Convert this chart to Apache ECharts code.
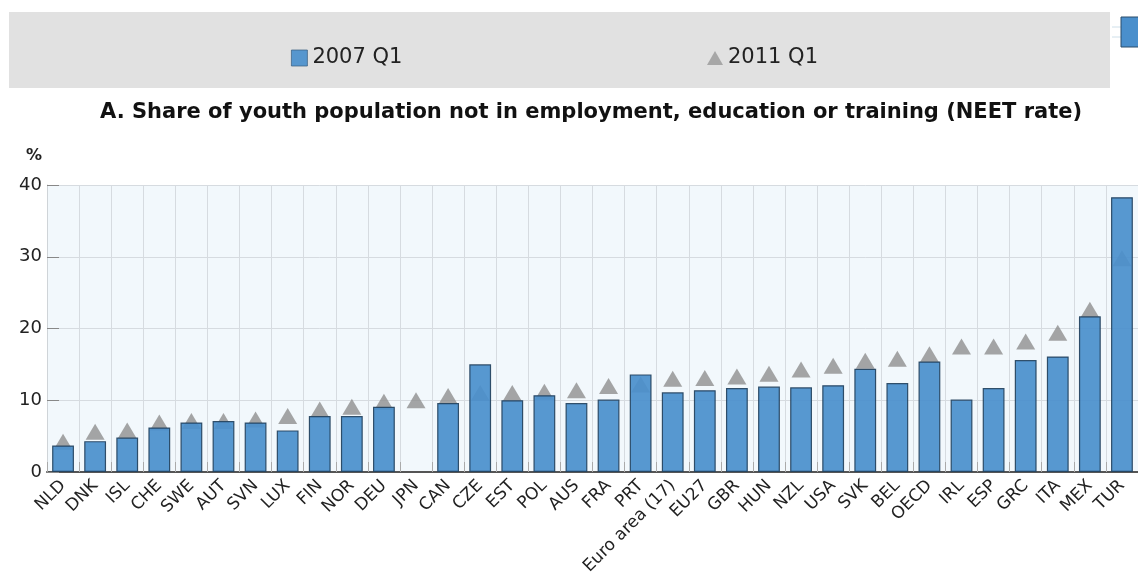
<!DOCTYPE html>
<html>
<head>
<meta charset="utf-8">
<script src="https://cdn.jsdelivr.net/npm/echarts@6/dist/echarts.min.js"></script>
<style>
html,body{margin:0;padding:0;background:#fff;}
#chart{width:1138px;height:587px;}
</style>
</head>
<body>
<div id="chart"></div>
<script>
var categories = ['NLD','DNK','ISL','CHE','SWE','AUT','SVN','LUX','FIN','NOR','DEU','JPN','CAN','CZE','EST','POL','AUS','FRA','PRT','Euro area (17)','EU27','GBR','HUN','NZL','USA','SVK','BEL','OECD','IRL','ESP','GRC','ITA','MEX','TUR'];
var values2007 = [3.7,4.3,4.8,6.2,6.9,7.1,6.9,5.8,7.8,7.8,9.1,null,9.6,15.0,10.0,10.7,9.6,10.1,13.6,11.1,11.4,11.7,11.9,11.8,12.1,14.4,12.4,15.4,10.1,11.7,15.6,16.1,21.7,38.3];
var values2011 = [4.2,5.6,5.8,6.9,7.1,7.1,7.3,7.8,8.7,9.1,9.8,10.0,10.6,11.0,11.0,11.2,11.4,12.0,12.2,13.0,13.1,13.3,13.7,14.3,14.8,15.5,15.8,16.4,17.5,17.5,18.2,19.4,22.6,29.8];
var seriesNames = ['2007 Q1','2011 Q1'];
var titleText = 'A. Share of youth population not in employment, education or training (NEET rate)';

var chart = echarts.init(document.getElementById('chart'));
var font = 'DejaVu Sans';
chart.setOption({
  animation: false,
  textStyle: {fontFamily: font},
  graphic: [
    {type:'rect', shape:{x:9,y:12,width:1101,height:76}, style:{fill:'#e1e1e1'}, z:-10},
    {type:'line', shape:{x1:1112,y1:27,x2:1121,y2:27}, style:{stroke:'#cfe0ea', lineWidth:1}, z:-10},
    {type:'line', shape:{x1:1112,y1:37,x2:1121,y2:37}, style:{stroke:'#cfe0ea', lineWidth:1}, z:-10},
    {type:'rect', shape:{x:1121,y:17,width:20,height:30}, style:{fill:'#4a8fcc', stroke:'#2b4c6a', lineWidth:1}, z:-10},
    {type:'text', left:26, top:148, style:{text:'%', font:'bold 16px "DejaVu Sans"', fill:'#222'}}
  ],
  title: {
    text: titleText,
    left: 95, top: 97,
    textStyle: {fontFamily: font, fontSize: 21, fontWeight: 'bold', color: '#111'}
  },
  legend: [
    {data:[{name:seriesNames[0], icon:'rect'}], left:286, top:41, itemWidth:16, itemHeight:16, itemGap:0,
     itemStyle:{borderWidth:0.8, borderColor:'#3a5f80'},
     textStyle:{fontFamily:font, fontSize:21, color:'#222', lineHeight:24}},
    {data:[seriesNames[1]], left:702, top:41, itemWidth:16, itemHeight:14, itemGap:0,
     itemStyle:{color:'#999'},
     textStyle:{fontFamily:font, fontSize:21, color:'#222', lineHeight:24}}
  ],
  grid: {left:47, right:-7, top:185, bottom:115, show:true, backgroundColor:'#f2f8fc', borderWidth:0},
  xAxis: {
    type:'category', data:categories,
    axisLine:{lineStyle:{color:'#555', width:2}},
    axisTick:{show:true, inside:true, length:10, lineStyle:{color:'#aaa'}},
    splitLine:{show:true, lineStyle:{color:'#d6dbe0'}},
    axisLabel:{rotate:45, interval:0, fontSize:17, color:'#222', margin:11, fontFamily:font}
  },
  yAxis: {
    type:'value', min:0, max:40, interval:10,
    axisLine:{show:true, lineStyle:{color:'#cfd4d8'}},
    axisTick:{show:true, inside:true, length:12, lineStyle:{color:'#888'}},
    splitLine:{show:true, lineStyle:{color:'#d6dbe0'}},
    axisLabel:{fontSize:18, color:'#222', margin:5, fontFamily:font}
  },
  series: [
    {name:seriesNames[0], type:'bar', data:values2007, barWidth:'68%', z:3,
     itemStyle:{color:'#4a8fcc', borderColor:'#23425e', borderWidth:1.2, opacity:0.92}},
    {name:seriesNames[1], type:'scatter', data:values2011, symbol:'triangle', symbolSize:[19,16], z:2,
     itemStyle:{color:'#8f8f8f'}}
  ]
});
</script>
</body>
</html>
